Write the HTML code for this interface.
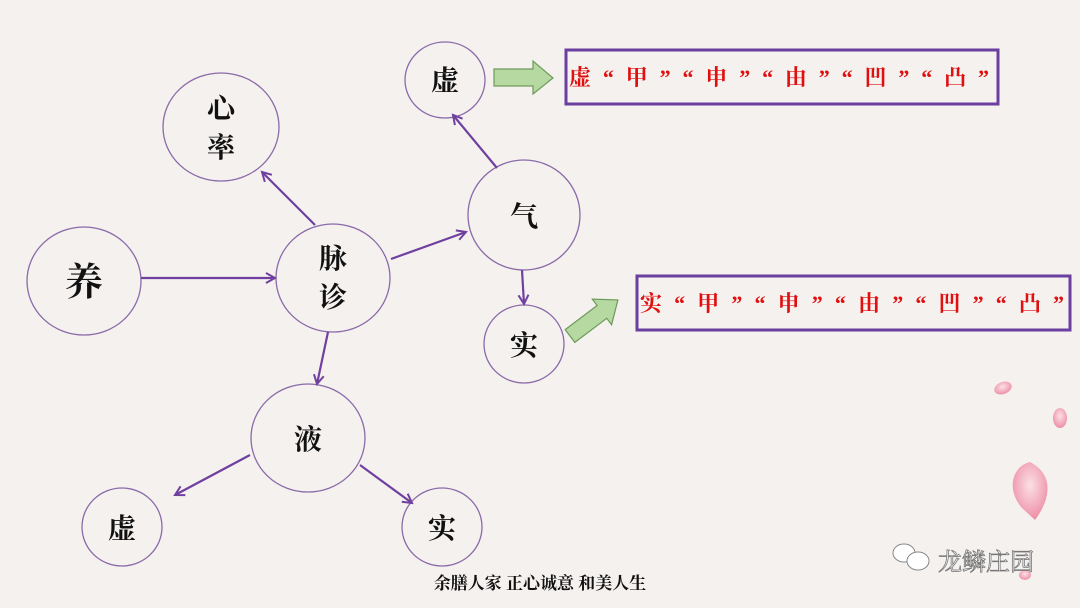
<!DOCTYPE html>
<html><head><meta charset="utf-8"><style>
html,body{margin:0;padding:0;width:1080px;height:608px;overflow:hidden;background:#f4f1ef;}
svg{display:block}
text{font-family:"Liberation Serif","Noto Serif CJK SC",serif;}
</style></head><body>
<svg width="1080" height="608" viewBox="0 0 1080 608" xmlns="http://www.w3.org/2000/svg">
<defs>
<marker id="a" markerWidth="12" markerHeight="12" refX="10" refY="6" orient="auto" markerUnits="userSpaceOnUse">
<path d="M1,1 L10,6 L1,11" fill="none" stroke="#7040a0" stroke-width="2"/>
</marker>
<radialGradient id="p" cx="50%" cy="40%" r="60%"><stop offset="0" stop-color="#fbe0e6"/><stop offset="1" stop-color="#ee8fa6"/></radialGradient>
</defs>
<rect width="1080" height="608" fill="#f4f1ef"/>
<g fill="none" stroke="#8a6aa8" stroke-width="1.3">
<ellipse cx="445" cy="80" rx="40" ry="38"/>
<ellipse cx="221" cy="127" rx="58" ry="54"/>
<ellipse cx="84" cy="281" rx="57" ry="54"/>
<ellipse cx="333" cy="278" rx="57" ry="54"/>
<ellipse cx="524" cy="215" rx="56" ry="55"/>
<ellipse cx="524" cy="344" rx="40" ry="39"/>
<ellipse cx="308" cy="438" rx="57" ry="54"/>
<ellipse cx="122" cy="527" rx="40" ry="39"/>
<ellipse cx="442" cy="527" rx="40" ry="39"/>
</g>
<g stroke="#7040a0" stroke-width="2.2" fill="none" marker-end="url(#a)">
<line x1="141" y1="278" x2="275" y2="278"/>
<line x1="315" y1="225" x2="262" y2="172"/>
<line x1="391" y1="259" x2="466" y2="232"/>
<line x1="328" y1="332" x2="317" y2="384"/>
<line x1="497" y1="168" x2="453" y2="115"/>
<line x1="522" y1="270" x2="524" y2="304"/>
<line x1="250" y1="455" x2="175" y2="495"/>
<line x1="360" y1="465" x2="412" y2="503"/>
</g>
<g fill="#111" text-anchor="middle" font-size="28" font-weight="bold">
<text x="445" y="90">虚</text>
<text x="221" y="118">心</text>
<text x="221" y="157">率</text>
<text x="84" y="295" font-size="38">养</text>
<text x="333" y="268">脉</text>
<text x="333" y="307">诊</text>
<text x="524" y="226">气</text>
<text x="524" y="355">实</text>
<text x="308" y="449">液</text>
<text x="122" y="538">虚</text>
<text x="442" y="538">实</text>
</g>
<rect x="566" y="50" width="432" height="54" fill="none" stroke="#6a3fa0" stroke-width="3"/>
<rect x="637" y="276" width="433" height="54" fill="none" stroke="#6a3fa0" stroke-width="3"/>
<g fill="#e01010" font-size="22" font-weight="bold">
<text x="569" y="85" textLength="420">虚“甲”“申”“由”“凹”“凸”</text>
<text x="640" y="311" textLength="424">实“甲”“申”“由”“凹”“凸”</text>
</g>
<path d="M494,69 L533,69 L533,61 L553,78 L533,94 L533,86 L494,86 Z" fill="#b5d9a0" stroke="#6f9a5a" stroke-width="1.2"/>
<g transform="translate(570,336) rotate(-37)">
<path d="M0,-8 L40,-8 L40,-16 L60,0 L40,16 L40,8 L0,8 Z" fill="#b5d9a0" stroke="#6f9a5a" stroke-width="1.2"/>
</g>
<ellipse cx="1003" cy="388" rx="9" ry="6" fill="url(#p)" transform="rotate(-20 1003 388)"/>
<ellipse cx="1060" cy="418" rx="7" ry="10" fill="url(#p)"/>
<path d="M1030,462 C1012,466 1006,490 1022,508 L1035,520 C1050,500 1055,475 1030,462 Z" fill="url(#p)"/>
<ellipse cx="1025" cy="575" rx="6" ry="5" fill="url(#p)"/>
<g fill="#fff" stroke="#888" stroke-width="1">
<ellipse cx="904" cy="553" rx="11" ry="9"/>
<ellipse cx="918" cy="561" rx="11" ry="9"/>
</g>
<text x="938" y="570" font-size="24" fill="#fff" stroke="#777" stroke-width="0.8" font-family="Liberation Sans,'Noto Sans CJK SC',sans-serif">龙鳞庄园</text>
<text x="540" y="589" text-anchor="middle" font-size="17" fill="#111" font-weight="bold">余膳人家 正心诚意 和美人生</text>
</svg>
</body></html>
